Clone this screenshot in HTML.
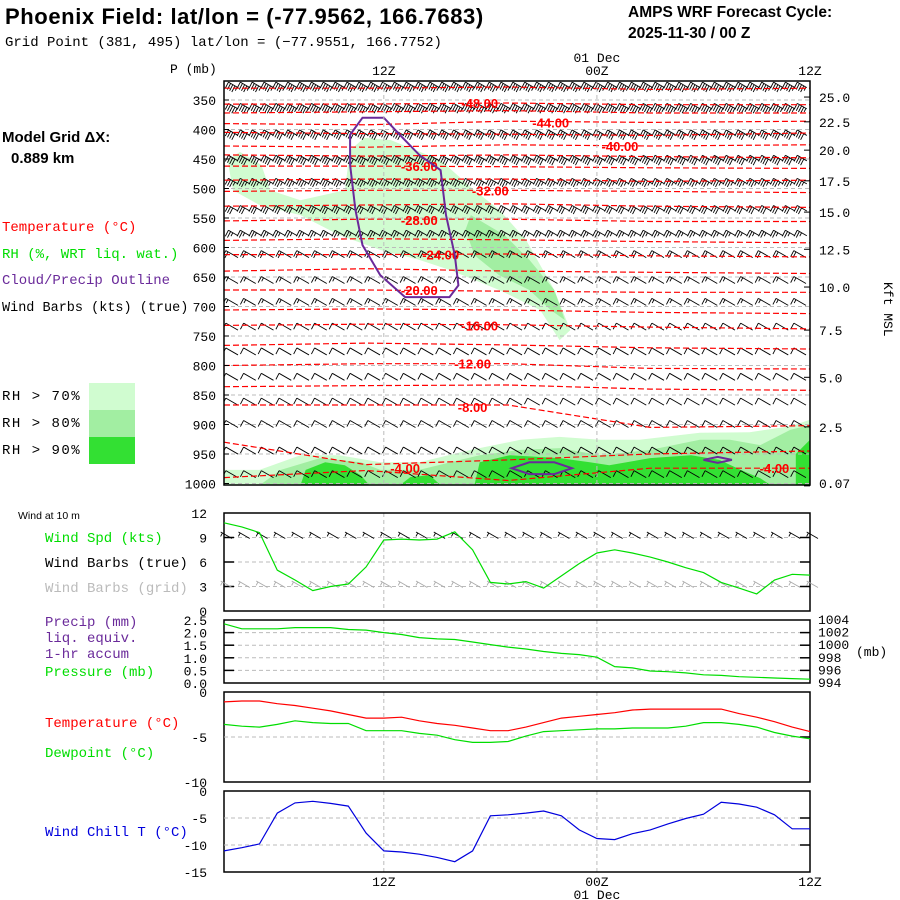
<!DOCTYPE html>
<html><head><meta charset="utf-8"><style>
body{margin:0;background:#fff;width:900px;height:900px;overflow:hidden}
svg{display:block}
text{font-family:"Liberation Sans",sans-serif}
.ax{font-family:"Liberation Mono",monospace;font-size:13px}
.lb{font-family:"Liberation Mono",monospace;font-size:14px}
</style></head><body>
<svg id="c" width="900" height="900" xmlns="http://www.w3.org/2000/svg">
<text x="5" y="24" font-size="22" font-weight="bold" letter-spacing="0.6">Phoenix Field:  lat/lon = (-77.9562, 166.7683)</text>
<text x="5" y="46" font-size="14" style="font-family:'Liberation Mono',monospace">Grid Point (381, 495) lat/lon = (−77.9551, 166.7752)</text>
<text x="628" y="17" font-size="15.5" font-weight="bold">AMPS WRF Forecast Cycle:</text>
<text x="628" y="38" font-size="15.5" font-weight="bold">2025-11-30 / 00  Z</text>
<text x="2" y="142" font-size="15" font-weight="bold">Model Grid ΔX:</text>
<text x="11" y="163" font-size="15" font-weight="bold">0.889 km</text>
<text class="lb" x="2" y="231" fill="#ff0000">Temperature (°C)</text>
<text class="lb" x="2" y="258" fill="#00dd00">RH (%, WRT liq. wat.)</text>
<text class="lb" x="2" y="284" fill="#6a2a9a">Cloud/Precip Outline</text>
<text class="lb" x="2" y="311" font-size="13.5" style="font-size:13.5px">Wind Barbs (kts) (true)</text>
<text class="lb" x="2" y="400" letter-spacing="1.5">RH &gt; 70%</text>
<text class="lb" x="2" y="427" letter-spacing="1.5">RH &gt; 80%</text>
<text class="lb" x="2" y="454" letter-spacing="1.5">RH &gt; 90%</text>
<rect x="89" y="383" width="46" height="27" fill="#d0fcd0"/>
<rect x="89" y="410" width="46" height="27" fill="#a2eea2"/>
<rect x="89" y="437" width="46" height="27" fill="#33e033"/>
<text x="18" y="519" font-size="10.5">Wind at 10 m</text>
<text class="lb" x="45" y="542" fill="#00dd00">Wind Spd (kts)</text>
<text class="lb" x="45" y="567">Wind Barbs (true)</text>
<text class="lb" x="45" y="592" fill="#bbbbbb">Wind Barbs (grid)</text>
<text class="lb" x="45" y="626" fill="#6a2a9a">Precip (mm)</text>
<text class="lb" x="45" y="642" fill="#6a2a9a">liq. equiv.</text>
<text class="lb" x="45" y="658" fill="#6a2a9a">1-hr accum</text>
<text class="lb" x="45" y="676" fill="#00dd00">Pressure (mb)</text>
<text x="856" y="656" font-size="13" class="ax">(mb)</text>
<text class="lb" x="45" y="727" fill="#ff0000">Temperature (°C)</text>
<text class="lb" x="45" y="757" fill="#00dd00">Dewpoint (°C)</text>
<text class="lb" x="45" y="836" fill="#0000dd">Wind Chill T (°C)</text>
<text x="170" y="73" font-size="12" class="ax">P (mb)</text>
<text x="0" y="0" font-size="12" class="ax" transform="translate(884,282) rotate(90)">Kft MSL</text>
<g id="g"></g>
</svg>
<script>
// ---------- data ----------
const hours=[0,1,2,3,4,5,6,7,8,9,10,11,12,13,14,15,16,17,18,19,20,21,22,23,24,25,26,27,28,29,30,31,32,33];
const windSpd=[10.8,10.3,9.6,5.0,3.8,2.5,3.0,3.3,5.4,8.7,8.8,8.7,8.8,9.7,7.5,3.5,3.3,3.6,2.8,4.3,5.8,7.1,7.5,7.1,6.6,6.0,5.3,4.7,3.5,2.8,2.1,3.8,4.5,4.4];
const pressure=[1003.4,1002.6,1002.6,1002.6,1002.8,1002.8,1002.8,1002.5,1002.4,1002.0,1001.7,1001.2,1001.0,1000.9,1000.5,1000.1,999.7,999.4,999.0,998.7,998.5,998.1,996.6,996.4,995.9,995.8,995.6,995.3,995.2,995.0,994.9,994.8,994.7,994.6];
const sfcTemp=[-1.1,-1.0,-1.0,-1.3,-1.5,-1.8,-2.1,-2.5,-2.9,-2.9,-2.8,-3.2,-3.5,-3.7,-4.0,-4.3,-4.3,-3.9,-3.4,-2.9,-2.7,-2.5,-2.3,-2.0,-1.9,-1.9,-1.9,-1.9,-1.9,-2.4,-2.8,-3.3,-3.9,-4.4];
const dewpt=[-3.6,-3.8,-3.9,-3.6,-3.2,-3.4,-3.5,-3.5,-4.3,-4.3,-4.3,-4.6,-4.8,-5.3,-5.6,-5.6,-5.5,-4.9,-4.4,-4.3,-4.2,-4.1,-4.1,-4.0,-4.0,-4.0,-3.8,-3.4,-3.4,-3.6,-3.9,-4.5,-4.9,-5.2];
const windChill=[-11.1,-10.5,-9.8,-4.1,-2.2,-1.9,-2.3,-2.8,-7.8,-11.1,-11.3,-11.7,-12.3,-13.1,-11.1,-4.6,-4.4,-4.1,-3.7,-4.6,-7.2,-8.8,-9.0,-7.9,-7.2,-6.1,-5.1,-4.3,-2.1,-2.4,-3.0,-4.4,-7.0,-7.0];
const pTicks=[350,400,450,500,550,600,650,700,750,800,850,900,950,1000];
const kftLabels=["25.0","22.5","20.0","17.5","15.0","12.5","10.0","7.5","5.0","2.5","0.07"];
const kftPres=[345,387,435,487,540,603,667,740,820,904,1004];
const isoHours=[0,8,16,24,33];
const isoValues=[-50,-48,-46,-44,-42,-40,-38,-36,-34,-32,-30,-28,-26,-24,-22,-20,-18,-16,-14,-12,-10,-8,-6,-4];
const isoPres=[[330,330,328,332,330],[357,357,355,358,358],[372,370,368,372,372],[390,392,386,388,386],[405,407,408,410,406],[428,430,426,428,426],[443,445,443,446,448],[462,462,463,465,466],[486,484,484,488,486],[505,503,503,505,507],[530,528,526,530,532],[555,552,552,556,556],[588,585,587,590,592],[612,612,611,614,616],[640,636,640,642,644],[672,672,674,676,676],[706,704,706,710,712],[732,730,731,735,738],[766,762,765,770,772],[800,797,797,805,806],[836,834,833,840,842],[867,867,867,905,902],[930,968,960,950,945],[990,978,995,974,974]];
const isoLabels=[[-48,14.4,355],[-44,18.4,388],[-40,22.3,428],[-36,11,462],[-32,15,503],[-28,11,553],[-24,12.2,612],[-20,11,672],[-16,14.4,732],[-12,14,797],[-8,14,870],[-4,10.2,974],[-4,31,974]];
const rhLight=[[0.2,452],[0.9,438],[2.1,460],[2.6,503],[4.3,520],[6.8,503],[7.1,435],[7.9,414],[9.4,418],[12.2,452],[14.1,503],[15.5,536],[17,587],[18.6,672],[19.5,740],[18.9,757],[17.8,706],[15.5,672],[12.7,638],[11,621],[8.8,604],[6.5,579],[4.3,545],[2,528],[0.5,503]];
const rhMid=[[13.9,545],[15.8,579],[17.2,621],[18.6,672],[19.2,723],[18.4,706],[17.2,672],[15.5,647],[14.1,613],[13.6,570]];
const rhLightLow=[[0,1003],[0,977],[2,977],[4.3,952],[6.5,952],[8.8,964],[11,964],[13.9,943],[16.7,926],[18.9,921],[21.2,926],[23.4,926],[26.8,914],[29.6,913],[31.9,903],[33,892],[33,1003]];
const rhMidLow=[[2,1003],[3.2,977],[5.4,957],[7.7,964],[8.8,977],[11,977],[13.3,960],[14.4,952],[16.7,943],[18.9,940],[21.2,952],[24,943],[26.8,926],[28.5,926],[30.2,935],[31.9,909],[33,901],[33,1003]];
const rhDark1=[[4.3,1003],[4.6,977],[5.7,964],[6.8,969],[7.7,986],[8.2,1003]];
const rhDark2=[[9.9,1003],[10.5,989],[11.6,986],[12.2,1003]];
const rhDark3=[[14.1,1003],[14.4,964],[16.1,952],[18.9,957],[20.6,964],[21.7,969],[24,957],[26.3,952],[27.9,960],[29.1,977],[30.2,991],[30.8,1003]];
const rhDark4=[[32.2,1003],[32.2,950],[33,926],[33,1003]];
const cloudMain=[[7.1,460],[7.1,409],[7.8,380],[9,380],[9.9,409],[11,443],[12.2,469],[12.5,545],[13,613],[13.2,664],[12.7,684],[10.2,684],[8.8,647],[7.8,596],[7.4,536]];
const cloudHex=[[16.2,974],[17.2,964],[18.6,964],[19.6,974],[18.6,984],[17.2,984]];
const cloudDiamond=[[27,960],[27.8,955],[28.6,960],[27.8,965]];
const barbRowPres=[324,360,405,448,487,533,575,612,656,693,735,777,820,862,900,945,985];
const barbRowSpd=[45,45,40,40,35,30,25,22,15,15,12,12,10,10,10,10,12];
// ---------- scales ----------
const X0=224,X1=810;
const x=h=>X0+h*(X1-X0)/33;
const yP=p=>100+(p-350)*0.59;
const MT=81,MB=485;
const yW=v=>611-v*98/12;
const yPr=v=>683-(v-994)*6.3;
const yPc=v=>683-v*25.2;
const yT=v=>692-v*9;
const yWC=v=>791-v*81/15;
const g=document.getElementById('g');
const NS='http://www.w3.org/2000/svg';
function el(t,a,p){const e=document.createElementNS(NS,t);for(const k in a)e.setAttribute(k,a[k]);(p||g).appendChild(e);return e;}
function poly(pts){return pts.map(q=>x(q[0]).toFixed(1)+','+yP(q[1]).toFixed(1)).join(' ');}
const defs=el('defs',{});
const cp=el('clipPath',{id:'mc'},defs);el('rect',{x:X0,y:MT,width:X1-X0,height:MB-MT},cp);
const mg=el('g',{'clip-path':'url(#mc)'});


[[rhLight,'#d0fcd0','rh70-upper'],[rhMid,'#a2eea2','rh80-upper'],[rhLightLow,'#d0fcd0','rh70-lower'],[rhMidLow,'#a2eea2','rh80-lower'],[rhDark1,'#33e033','rh90-a'],[rhDark2,'#33e033','rh90-b'],[rhDark3,'#33e033','rh90-c'],[rhDark4,'#33e033','rh90-d']].forEach(r=>{
 const e=el('polygon',{points:poly(r[0]),fill:r[1]},mg);
 
 
});
pTicks.forEach(p=>{const e=el('line',{x1:X0,x2:X1,y1:yP(p),y2:yP(p),stroke:'#bbb','stroke-dasharray':'4,3'},mg);
 
 });
[9,21].forEach(h=>{[[MT,MB],[513,611],[620,683],[692,782],[791,872]].forEach(r=>{const e=el('line',{x1:x(h),x2:x(h),y1:r[0],y2:r[1],stroke:'#bbb','stroke-dasharray':'4,3'});
 
 });});
function barb(par,bx,by,spd,col,L){
 L=L||14;
 const dx=-0.87,dy=-0.5,fx=-0.45,fy=0.87;
 const tx=bx+dx*L,ty=by+dy*L;
 let d=`M${bx},${by}L${tx},${ty}`;
 let s=spd,pos=0;
 while(s>=7.5){const px=tx-dx*pos*2.5,py=ty-dy*pos*2.5;d+=`M${px},${py}l${fx*7},${fy*7}`;s-=10;pos++;}
 if(s>=2.5){const px=tx-dx*(pos*2.5+(pos?0:2)),py=ty-dy*(pos*2.5+(pos?0:2));d+=`M${px},${py}l${fx*4},${fy*4}`;}
 const e=el('path',{d:d,stroke:col,fill:'none','stroke-width':0.9},par);
 
 
}
barbRowPres.forEach((p,i)=>{const step=i<7?11.85:17.75;for(let bx=X0+14;bx<X1+8;bx+=step)barb(mg,bx,yP(p)+3,barbRowSpd[i],'#000',i<7?11:14);});
isoValues.forEach((v,i)=>{const e=el('polyline',{points:poly(isoHours.map((h,j)=>[h,isoPres[i][j]])),fill:'none',stroke:'#ff0000','stroke-width':1.2,'stroke-dasharray':'6,3'},mg);
 
 });
isoLabels.forEach(l=>{const e=el('text',{x:x(l[1]),y:yP(l[2])+5,fill:'#ff0000','font-size':13,'font-weight':'bold','text-anchor':'middle'},mg);e.textContent=l[0].toFixed(2);
 
 });
[[cloudMain,'cloud-outline'],[cloudHex,'precip-outline-a'],[cloudDiamond,'precip-outline-b']].forEach(c=>{const e=el('polygon',{points:poly(c[0]),fill:'none',stroke:'#6a2a9a','stroke-width':2},mg);
 
 });
[[MT,MB,'main-frame'],[513,611,'wind-frame'],[620,683,'pressure-frame'],[692,782,'temp-frame'],[791,872,'windchill-frame']].forEach(r=>{const e=el('rect',{x:X0,y:r[0],width:X1-X0,height:r[1]-r[0],fill:'none',stroke:'#000','stroke-width':1.5});
 
 });
function txt(s,xx,yy,anchor,name,extra){const e=el('text',Object.assign({x:xx,y:yy,'text-anchor':anchor||'start',class:'ax'},extra||{}));e.textContent=s;
 
 return e;}
pTicks.forEach(p=>{txt(String(p),216,yP(p)+5,'end','p-tick-label');el('line',{x1:X0,x2:X0+5,y1:yP(p),y2:yP(p),stroke:'#000'});});
kftLabels.forEach((k,i)=>{const yy=Math.min(yP(kftPres[i]),MB-2);txt(k,819,yy+5,'start','kft-tick-label');el('line',{x1:X1-6,x2:X1,y1:yP(kftPres[i]),y2:yP(kftPres[i]),stroke:'#000'});});
txt('12Z',x(9),75,'middle','top-12z');txt('00Z',x(21),75,'middle','top-00z');txt('01 Dec',x(21),62,'middle','top-date');txt('12Z',x(33),75,'middle','top-12z-end');
txt('12Z',x(9),886,'middle','bottom-12z');txt('00Z',x(21),886,'middle','bottom-00z');txt('01 Dec',x(21),899,'middle','bottom-date');txt('12Z',x(33),886,'middle','bottom-12z-end');
const windTicks=[0,3,6,9,12];
windTicks.forEach(v=>{txt(String(v),207,yW(v)+5,'end','wind-tick-label');if(v>0&&v<12){const e=el('line',{x1:X0,x2:X1,y1:yW(v),y2:yW(v),stroke:'#bbb','stroke-dasharray':'4,3'});el('line',{x1:X0,x2:X0+10,y1:yW(v),y2:yW(v),stroke:'#000','stroke-width':1.5});el('line',{x1:X1-10,x2:X1,y1:yW(v),y2:yW(v),stroke:'#000','stroke-width':1.5});}});
for(let h=0;h<=33;h+=1){barb(g,x(h)+8,yW(9)+1,7,'#000',13);barb(g,x(h)+8,yW(3)+1,3,'#aaa',13);}
function line(arr,fy,col,name){const e=el('polyline',{points:hours.map((h,i)=>x(h).toFixed(1)+','+fy(arr[i]).toFixed(1)).join(' '),fill:'none',stroke:col,'stroke-width':1.2});
 
 }
line(windSpd,yW,'#00dd00','wind-speed-line');
const precipTicks=["0.0","0.5","1.0","1.5","2.0","2.5"];
const presTicks=[994,996,998,1000,1002,1004];
precipTicks.forEach(v=>{const yy=yPc(+v);txt(v,207,yy+5,'end','precip-tick-label');if(+v>0&&+v<2.5){const e=el('line',{x1:X0,x2:X1,y1:yy,y2:yy,stroke:'#bbb','stroke-dasharray':'4,3'});el('line',{x1:X0,x2:X0+10,y1:yy,y2:yy,stroke:'#000','stroke-width':1.5});el('line',{x1:X1-10,x2:X1,y1:yy,y2:yy,stroke:'#000','stroke-width':1.5});}});
presTicks.forEach(v=>{txt(String(v),818,yPr(v)+4,'start','pressure-tick-label',{'font-size':10});});
line(pressure,yPr,'#00dd00','pressure-line');
[0,-5,-10].forEach(v=>{txt(String(v),207,yT(v)+5,'end','temp-tick-label');});
{const e=el('line',{x1:X0,x2:X1,y1:yT(-5),y2:yT(-5),stroke:'#bbb','stroke-dasharray':'4,3'});el('line',{x1:X1-10,x2:X1,y1:yT(-5),y2:yT(-5),stroke:'#000','stroke-width':1.5});}
line(sfcTemp,yT,'#ff0000','temperature-line');
line(dewpt,yT,'#00dd00','dewpoint-line');
[0,-5,-10,-15].forEach(v=>{txt(String(v),207,yWC(v)+5,'end','windchill-tick-label');if(v<0&&v>-15){const e=el('line',{x1:X0,x2:X1,y1:yWC(v),y2:yWC(v),stroke:'#bbb','stroke-dasharray':'4,3'});el('line',{x1:X1-10,x2:X1,y1:yWC(v),y2:yWC(v),stroke:'#000','stroke-width':1.5});}});
line(windChill,yWC,'#0000dd','windchill-line');
</script>
</body></html>
